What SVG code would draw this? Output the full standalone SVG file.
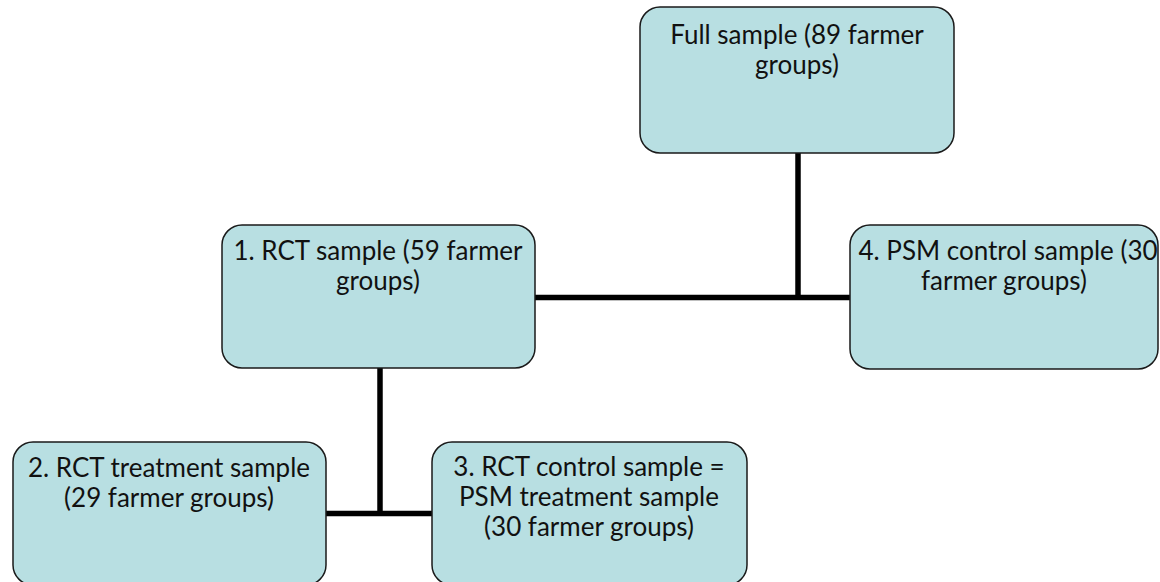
<svg xmlns="http://www.w3.org/2000/svg" width="1160" height="582" viewBox="0 0 1160 582">
<style>
.box{fill:#b8dfe2;stroke:#1a1a1a;stroke-width:1.5}
.t{font-family:Lato,"Open Sans",sans-serif;font-size:26px;fill:#111;text-anchor:middle}
.c{stroke:#000;stroke-width:5.5;fill:none}
</style>
<rect width="1160" height="582" fill="#fff"/>
<g id="connectors">
<line class="c" x1="798" y1="153" x2="798" y2="300"/>
<line class="c" x1="535" y1="297.5" x2="850" y2="297.5"/>
<line class="c" x1="380" y1="368" x2="380" y2="516"/>
<line class="c" x1="326" y1="513.5" x2="432" y2="513.5"/>
</g>
<g id="full">
<rect class="box" x="640" y="7" width="314" height="146" rx="20"/>
<text class="t" x="797" y="44">Full sample (89 farmer</text>
<text class="t" x="797" y="74">groups)</text>
</g>
<g id="rct">
<rect class="box" x="222" y="225" width="313" height="143" rx="20"/>
<text class="t" x="378" y="260">1. RCT sample (59 farmer</text>
<text class="t" x="378" y="290">groups)</text>
</g>
<g id="psm-control">
<rect class="box" x="850" y="225" width="308" height="144" rx="20"/>
<text class="t" x="1008" y="260">4. PSM control sample (30</text>
<text class="t" x="1004" y="290">farmer groups)</text>
</g>
<g id="rct-treatment">
<rect class="box" x="13" y="442" width="313" height="143" rx="20"/>
<text class="t" x="169" y="477">2. RCT treatment sample</text>
<text class="t" x="169" y="507">(29 farmer groups)</text>
</g>
<g id="rct-control">
<rect class="box" x="432" y="442" width="315" height="143" rx="20"/>
<text class="t" x="589" y="476">3. RCT control sample =</text>
<text class="t" x="589" y="506">PSM treatment sample</text>
<text class="t" x="589" y="536">(30 farmer groups)</text>
</g>
</svg>
